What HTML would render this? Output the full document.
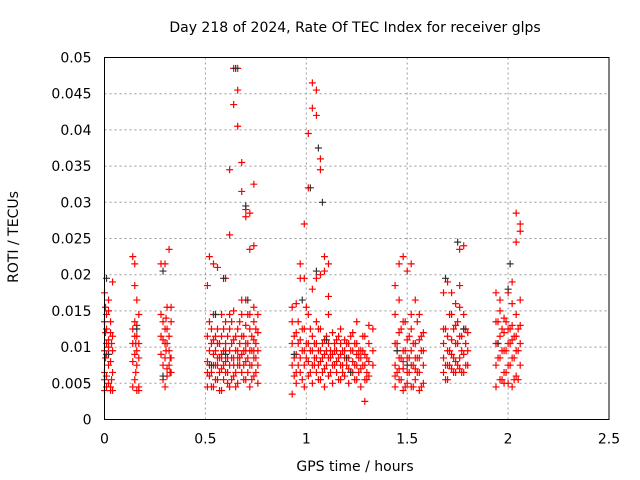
<!DOCTYPE html>
<html><head><meta charset="utf-8"><style>
html,body{margin:0;padding:0;background:#fff}
svg{display:block;font-family:"DejaVu Sans","Liberation Sans",sans-serif}
</style></head><body>
<svg id="chart" width="640" height="480">
<text x="355" y="32" font-size="14" text-anchor="middle">Day 218 of 2024, Rate Of TEC Index for receiver glps</text>
<text x="355" y="471" font-size="14" text-anchor="middle">GPS time / hours</text>
<text transform="translate(18,237) rotate(-90)" font-size="14" text-anchor="middle">ROTI / TECUs</text>
<g id="grid"></g><g id="ticks"></g><g id="marks"></g>
<rect x="104.5" y="57.5" width="504.5" height="362" fill="none" stroke="#000" stroke-width="1"/>
</svg>
<script>
const xTicks=[0,0.5,1,1.5,2,2.5];
const xTickLabels=["0","0.5","1","1.5","2","2.5"];
const yTicks=[0,0.005,0.01,0.015,0.02,0.025,0.03,0.035,0.04,0.045,0.05];
const yTickLabels=["0","0.005","0.01","0.015","0.02","0.025","0.03","0.035","0.04","0.045","0.05"];
const redTimes=[0.00,0.01,0.02,0.03,0.04,0.14,0.15,0.16,0.17,0.28,0.29,0.30,0.31,0.32,0.33,
0.51,0.52,0.54,0.56,0.58,0.60,0.62,0.64,0.66,0.68,0.70,0.72,0.74,0.76,
0.93,0.95,0.97,0.99,1.01,1.03,1.05,1.07,1.09,1.11,1.13,1.15,1.17,1.19,1.21,1.23,1.25,1.27,1.29,1.31,1.33,
1.44,1.46,1.48,1.50,1.52,1.54,1.56,1.58,
1.68,1.70,1.72,1.74,1.76,1.78,1.80,
1.94,1.96,1.98,2.00,2.02,2.04,2.06,
0.005,0.035,0.155,0.305,0.325,0.53,0.55,0.57,0.59,0.61,0.63,0.65,0.67,0.69,0.71,0.73,0.75,
0.94,0.96,0.98,1.00,1.02,1.04,1.06,1.08,1.10,1.12,1.14,1.16,1.18,1.20,1.22,1.24,1.26,1.28,1.30,
1.45,1.47,1.49,1.51,1.53,1.55,1.57,1.69,1.71,1.73,1.75,1.77,1.79,1.95,1.97,1.99,2.01,2.03,2.05];
const redValues=[
[0.004,0.0175,0.0095,0.0065,0.0135,0.0055],[0.006,0.009,0.0125,0.0145,0.0105,0.0045],[0.005,0.010,0.015,0.0075,0.0165,0.011],[0.004,0.008,0.012,0.0045,0.0135],[0.019,0.0115,0.0065,0.004,0.0095],
[0.0225,0.0045,0.0125,0.008,0.0105],[0.0215,0.009,0.0135,0.0055,0.0185,0.0115],[0.0075,0.0115,0.0165,0.0095,0.013,0.004],[0.004,0.0105,0.0145,0.0045,0.0085],
[0.0215,0.0145,0.009,0.0115],[0.0055,0.011,0.0075,0.0135],[0.0085,0.0215,0.0125,0.0045,0.0105],[0.007,0.0155,0.0105,0.006,0.0125],[0.0235,0.0095,0.0115,0.0075],[0.0065,0.0135,0.0155,0.0085],
[0.0045,0.008,0.0115,0.0185,0.0065],[0.006,0.0095,0.0135,0.0225,0.0075],[0.0045,0.0075,0.011,0.0145,0.0215,0.009],[0.0055,0.0085,0.0105,0.0125,0.021,0.0075],[0.004,0.007,0.009,0.0115,0.0145,0.0085],[0.0065,0.008,0.0105,0.0135,0.0195,0.0095],
[0.0045,0.0075,0.0095,0.0125,0.0145,0.0255,0.0345],[0.006,0.0085,0.011,0.015,0.0435,0.0485,0.0075],[0.005,0.0075,0.0095,0.0125,0.0455,0.0485,0.0405,0.0085],[0.0065,0.009,0.0115,0.0145,0.0165,0.0355,0.0315],[0.0055,0.008,0.0105,0.013,0.0165,0.029,0.028,0.0095],[0.0045,0.0075,0.0095,0.0125,0.0145,0.0285,0.0235],[0.006,0.0085,0.011,0.0135,0.0155,0.0325,0.024,0.0095],[0.005,0.0075,0.0095,0.012,0.0145],
[0.0035,0.0075,0.0105,0.0135,0.0155],[0.005,0.009,0.012,0.016,0.0065],[0.0065,0.0085,0.011,0.0195,0.0215],[0.0045,0.0075,0.0095,0.0125,0.027,0.0195],[0.006,0.008,0.0105,0.0145,0.0395,0.032],[0.005,0.0075,0.0095,0.0115,0.0465,0.043,0.018],[0.0065,0.0085,0.0105,0.0135,0.0455,0.042,0.0195],[0.0055,0.008,0.0095,0.0125,0.036,0.0345,0.02],[0.0045,0.007,0.009,0.011,0.0225,0.0205],[0.006,0.0085,0.0105,0.0145,0.0215,0.017],
[0.005,0.0075,0.009,0.012],[0.0065,0.008,0.0095,0.011],[0.0055,0.0075,0.009,0.0105,0.0125],[0.006,0.0085,0.0095,0.011],[0.005,0.007,0.0085,0.0105],[0.0065,0.008,0.0095,0.012],[0.0055,0.0075,0.009,0.0105,0.0135],[0.0045,0.007,0.0085,0.0095],[0.0055,0.0075,0.009,0.0115,0.0025],[0.006,0.008,0.0105,0.013],[0.0075,0.0095,0.0125],
[0.0045,0.0075,0.0105,0.0145,0.0185,0.006],[0.0055,0.0085,0.012,0.0165,0.0215,0.007],[0.004,0.007,0.0095,0.0135,0.0225,0.008],[0.005,0.0065,0.0085,0.011,0.0205],[0.0045,0.0075,0.0095,0.0125,0.0145,0.0215],[0.0055,0.007,0.0085,0.0105,0.0165],[0.004,0.0065,0.0085,0.011,0.0145],[0.005,0.0075,0.0095,0.012],
[0.0065,0.0085,0.0105,0.0125,0.0175],[0.0055,0.0075,0.0095,0.0115,0.019],[0.007,0.009,0.011,0.0145,0.0175],[0.0065,0.008,0.0105,0.013,0.016],[0.007,0.0085,0.0115,0.0155,0.0185,0.0235],[0.0065,0.009,0.0125,0.0145,0.024],[0.0075,0.0095,0.012],
[0.0045,0.0075,0.0105,0.0135,0.0175],[0.0055,0.0085,0.0115,0.015,0.0165],[0.0065,0.0095,0.012,0.014,0.005],[0.005,0.0075,0.0105,0.0125,0.0175],[0.0045,0.0085,0.011,0.013,0.016,0.019],[0.006,0.0095,0.0115,0.0145,0.0245,0.0285],[0.0075,0.0105,0.013,0.0165,0.027,0.026],
[0.0085,0.012,0.0155],[0.0105,0.0055],[0.0105,0.0065],[0.0095,0.014],[0.0085,0.0065],
[0.0065,0.0105,0.0125,0.0045],[0.0075,0.0095,0.0115,0.0055],[0.0065,0.0085,0.0105,0.004],[0.0055,0.0095,0.0125,0.0075],[0.0065,0.0085,0.0115,0.005],[0.0055,0.0085,0.0105,0.0135],[0.0065,0.0095,0.0115,0.0045],[0.0075,0.0085,0.0105,0.0135],[0.0055,0.0075,0.0095,0.0115],[0.0065,0.0085,0.0105,0.0145],[0.0055,0.0075,0.0095,0.0115],[0.0065,0.0085,0.0105,0.0125],
[0.006,0.0085,0.0115],[0.0075,0.0105,0.0135],[0.0055,0.0095,0.0125],[0.0085,0.0105,0.0155],[0.0065,0.0095,0.0125],[0.0075,0.0085,0.0105],[0.0055,0.0075,0.0095,0.0125],[0.0065,0.0085,0.0105],[0.0075,0.0095,0.0115],[0.0065,0.0085,0.0095],[0.0075,0.0095,0.0105],[0.0055,0.0085,0.0115],[0.0065,0.0075,0.0095],[0.0075,0.0085,0.0105],[0.0065,0.0095,0.0115],[0.0055,0.0075,0.0105],[0.0065,0.0085,0.0095],[0.0075,0.0095,0.0115],[0.0055,0.0065,0.0085],[0.0065,0.0095,0.0105],
[0.0055,0.0085,0.0125],[0.0045,0.0095,0.0135],[0.0065,0.0085,0.0115],[0.0045,0.0075,0.0105],[0.0065,0.0085,0.0135],[0.0045,0.0095,0.0115],[0.0055,0.0075,0.0125],
[0.0075,0.0095,0.0145],[0.0065,0.0085,0.0125],[0.0075,0.0105,0.0135],[0.0065,0.0095,0.0115],[0.0075,0.0105,0.0125],[0.0085,0.0105,0.0135],
[0.0055,0.0095,0.0125],[0.0065,0.0095,0.0135],[0.0075,0.0105,0.0125],[0.0055,0.0085,0.0115],[0.0055,0.0095,0.0125],[0.0065,0.0105,0.0135]];
const blackTimes=[0.01,0.02,0.16,0.29,0.29,0.55,0.59,0.60,0.65,0.70,0.71,0.98,1.02,1.06,1.08,1.05,1.10,1.20,1.45,1.50,1.69,1.75,1.78,2.01,2.00,1.95,0.94,0.53,1.22];
const blackValues=[0.0195,0.009,0.0125,0.0205,0.006,0.0145,0.0195,0.009,0.0485,0.0295,0.0165,0.0165,0.032,0.0375,0.030,0.0205,0.011,0.0085,0.0095,0.0075,0.0195,0.0245,0.0125,0.0215,0.018,0.0105,0.009,0.0075,0.0065];

const X0=104.5,X1=609,Y0=419.5,Y1=57.5;
const xs=v=>X0+(v/2.5)*(X1-X0);
const ys=v=>Y0-(v/0.05)*(Y0-Y1);
const NS="http://www.w3.org/2000/svg";
const grid=document.getElementById('grid'),ticks=document.getElementById('ticks'),marks=document.getElementById('marks');
function mk(tag,attrs,parent){const e=document.createElementNS(NS,tag);for(const k in attrs)e.setAttribute(k,attrs[k]);parent.appendChild(e);return e;}
xTicks.forEach((t,i)=>{
  const x=xs(t);
  if(i>0&&i<xTicks.length-1){const g=mk('line',{x1:x,x2:x,y1:Y1,y2:Y0,stroke:'#999','stroke-dasharray':'2,3'},grid);
  
  }
  const l=mk('text',{x:x,y:Y0+24,'font-size':14,'text-anchor':'middle'},ticks);l.textContent=xTickLabels[i];
  
  
});
yTicks.forEach((t,i)=>{
  const y=ys(t);
  if(i>0&&i<yTicks.length-1){const g=mk('line',{x1:X0,x2:X1,y1:y,y2:y,stroke:'#999','stroke-dasharray':'2,3'},grid);
  
  }
  const l=mk('text',{x:X0-13,y:y+5,'font-size':14,'text-anchor':'end'},ticks);l.textContent=yTickLabels[i];
  
  
});
function plus(t,v,color,name){
  const x=xs(t),y=ys(v);
  const p=mk('path',{d:`M${x-3.5},${y}H${x+3.5}M${x},${y-3.5}V${y+3.5}`,stroke:color,'stroke-width':1.2,fill:'none'},marks);
  
  
}
redTimes.forEach((t,i)=>redValues[i].forEach(v=>plus(t,v,'#f00','roti-point-red')));
blackTimes.forEach((t,i)=>plus(t,blackValues[i],'#333','roti-point-black'));
</script>
</body></html>
